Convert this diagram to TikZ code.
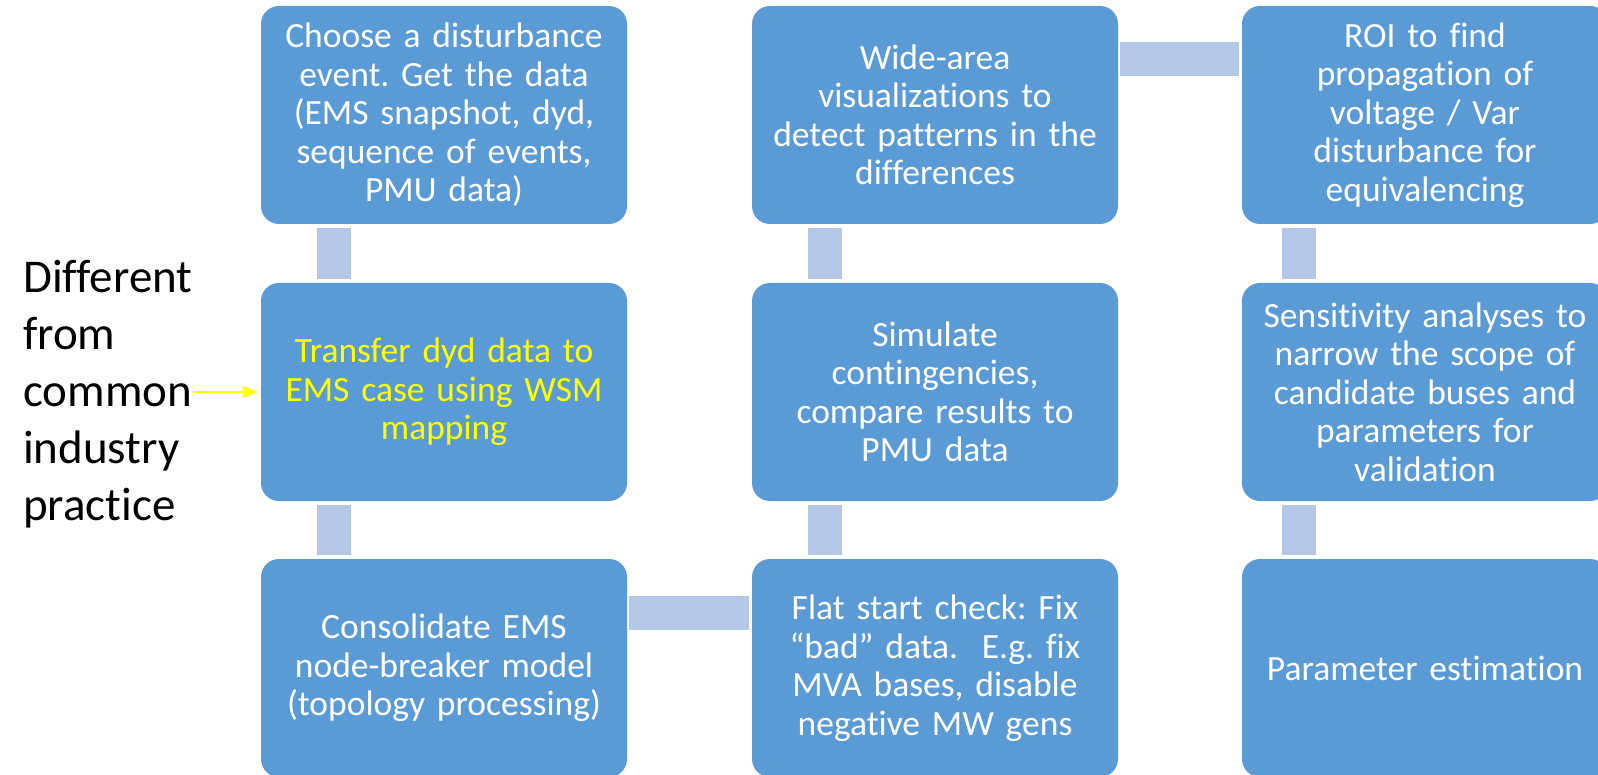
\documentclass[tikz,border=0pt]{standalone}
\usepackage{fontspec}
\setmainfont{Carlito}[Ligatures={NoCommon}]
\usetikzlibrary{arrows.meta}
\definecolor{boxblue}{HTML}{5B9BD5}
\definecolor{barblue}{HTML}{B4C7E7}
\definecolor{hiyellow}{HTML}{FFFF00}
\tikzset{
  stepbox/.style={draw=none, fill=boxblue, rounded corners=18pt, minimum width=366pt,
    minimum height=218pt, inner sep=0pt, text width=360pt, align=center, text=white,
    font=\fontsize{35.5}{38.5}\selectfont},
  bar/.style={draw=barblue, line width=34pt},
  arr/.style={draw=hiyellow, line width=2.2pt, -{Triangle[length=15pt,width=12pt]}, shorten >=3pt},
  note/.style={inner sep=0pt, align=left, font=\fontsize{47}{57}\selectfont, text=black}
}
\begin{document}
\frenchspacing
\begin{tikzpicture}[x=1pt,y=-1pt]
\useasboundingbox (0,0) rectangle (1598,775);
\clip (0,0) rectangle (1598,775);
\fill[white] (0,0) rectangle (1598,775);

\node[stepbox] (a) at (444,115) {Choose a disturbance\\event. Get the data\\(EMS snapshot, dyd,\\sequence of events,\\PMU data)};
\node[stepbox, text=hiyellow] (b) at (444,392) {Transfer dyd data to\\EMS case using WSM\\mapping};
\node[stepbox] (c) at (444,668) {Consolidate EMS\\node-breaker model\\(topology processing)};

\node[stepbox] (d) at (935,668) {Flat start check: Fix\\“bad” data.\ \ E.g. fix\\MVA bases, disable\\negative MW gens};
\node[stepbox] (e) at (935,392) {Simulate\\contingencies,\\compare results to\\PMU data};
\node[stepbox] (f) at (935,115) {Wide-area\\visualizations to\\detect patterns in the\\differences};

\node[stepbox] (g) at (1425,115) {ROI to find\\propagation of\\voltage / Var\\disturbance for\\equivalencing};
\node[stepbox] (h) at (1425,392) {Sensitivity analyses to\\narrow the scope of\\candidate buses and\\parameters for\\validation};
\node[stepbox] (i) at (1425,668) {Parameter estimation};

\draw[bar] ([xshift=-110pt,yshift=-4pt]a.south) -- ([xshift=-110pt,yshift=4pt]b.north);
\draw[bar] ([xshift=-110pt,yshift=-4pt]b.south) -- ([xshift=-110pt,yshift=4pt]c.north);
\draw[bar] ([xshift=2pt,yshift=55pt]c.east) -- ([xshift=-3pt,yshift=55pt]d.west);
\draw[bar] ([xshift=-110pt,yshift=4pt]d.north) -- ([xshift=-110pt,yshift=-4pt]e.south);
\draw[bar] ([xshift=-110pt,yshift=4pt]e.north) -- ([xshift=-110pt,yshift=-4pt]f.south);
\draw[bar] ([xshift=2pt,yshift=56pt]f.east) -- ([xshift=-3pt,yshift=56pt]g.west);
\draw[bar] ([xshift=-126pt,yshift=-4pt]g.south) -- ([xshift=-126pt,yshift=4pt]h.north);
\draw[bar] ([xshift=-126pt,yshift=-4pt]h.south) -- ([xshift=-126pt,yshift=4pt]i.north);

\node[note, anchor=west] (n) at (23,394) {Different\\from\\common\\industry\\practice};
\draw[arr] (n.east |- b.west) -- (b.west);
\end{tikzpicture}
\end{document}
